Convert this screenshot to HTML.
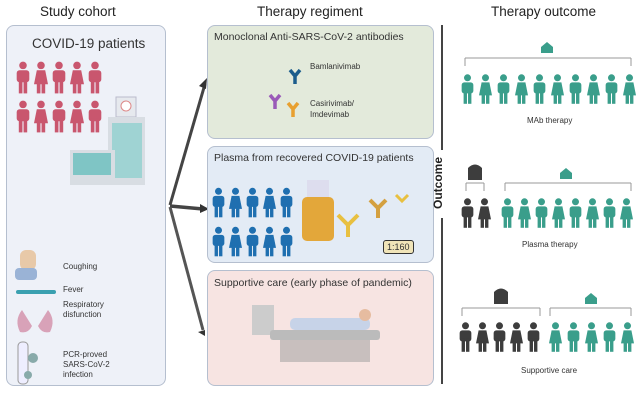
<!DOCTYPE html><html><head><style>
body{margin:0;width:641px;height:401px;background:#fff;font-family:"Liberation Sans",sans-serif;position:relative;overflow:hidden}
.t{position:absolute;font-size:13px;color:#222}
.s{position:absolute;font-size:8px;color:#333}
.box{position:absolute;border:1.5px solid #b5bfcf;border-radius:8px}
</style></head><body>
<svg width="0" height="0" style="position:absolute"><defs>
<symbol id="p" viewBox="0 0 10 24"><circle cx="5" cy="3" r="2.7"/><rect x="0.5" y="6.5" width="9" height="8.5" rx="2"/><rect x="2" y="13" width="2.6" height="10"/><rect x="5.4" y="13" width="2.6" height="10"/></symbol>
<symbol id="f" viewBox="0 0 10 24"><circle cx="5" cy="3" r="2.7"/><path d="M2 6.5h6l2 10H0z"/><rect x="2" y="15" width="2.6" height="8"/><rect x="5.4" y="15" width="2.6" height="8"/></symbol>
</defs></svg>
<div class="t" style="left:40px;top:4px;font-size:13.5px">Study cohort</div>
<div class="t" style="left:257px;top:4px;font-size:13.5px">Therapy regiment</div>
<div class="t" style="left:491px;top:4px;font-size:13.5px">Therapy outcome</div>
<div class="box" style="left:6px;top:25px;width:158px;height:359px;background:#eef1f8"></div>
<div class="t" style="left:32px;top:36px;font-size:13.5px;color:#333">COVID-19 patients</div>
<svg style="position:absolute;left:0;top:0" width="641" height="401">
<g fill="#c9566e">
<use href="#p" x="16" y="60" width="14" height="36"/><use href="#f" x="34" y="60" width="14" height="36"/><use href="#p" x="52" y="60" width="14" height="36"/><use href="#f" x="70" y="60" width="14" height="36"/><use href="#p" x="88" y="60" width="14" height="36"/>
<use href="#p" x="16" y="99" width="14" height="36"/><use href="#f" x="34" y="99" width="14" height="36"/><use href="#p" x="52" y="99" width="14" height="36"/><use href="#f" x="70" y="99" width="14" height="36"/><use href="#p" x="88" y="99" width="14" height="36"/>
</g>
<rect x="116" y="97" width="20" height="20" fill="#e6e9ee" stroke="#bbc"/><circle cx="126" cy="106" r="5" fill="#fff" stroke="#d88"/>
<rect x="108" y="117" width="37" height="68" fill="#d8dde3"/><rect x="112" y="123" width="30" height="55" fill="#9fd3d3"/>
<rect x="70" y="150" width="45" height="35" fill="#d8dde3"/><rect x="73" y="153" width="38" height="22" fill="#7fc5c5"/>
<rect x="20" y="250" width="16" height="20" rx="6" fill="#e8c9a8"/><rect x="15" y="268" width="22" height="12" rx="4" fill="#9ab3d6"/>
<rect x="16" y="290" width="40" height="4" rx="2" fill="#3aa0b0"/>
<path d="M22 310 q-8 10 -2 22 q8 2 12 -6z M48 310 q8 10 2 22 q-8 2 -12 -6z" fill="#d8a2b8"/>
<rect x="18" y="342" width="10" height="42" rx="4" fill="#eef" stroke="#999"/><circle cx="33" cy="358" r="5" fill="#8aa"/><circle cx="28" cy="375" r="4" fill="#8aa"/>
<line x1="170" y1="205" x2="205" y2="84" stroke="#444" stroke-width="3"/><path d="M207 78 l-1 11 -7 -3z" fill="#333"/>
<line x1="170" y1="206" x2="203" y2="209" stroke="#444" stroke-width="3.5"/><path d="M209 209 l-9 -5 0 9z" fill="#333"/>
<line x1="170" y1="207" x2="203" y2="330" stroke="#555" stroke-width="3"/><path d="M205 336 l-7 -4 7 -2z" fill="#333"/>
</svg>
<div class="s" style="left:63px;top:262px">Coughing</div>
<div class="s" style="left:63px;top:285px">Fever</div>
<div class="s" style="left:63px;top:300px;line-height:10px">Respiratory<br>disfunction</div>
<div class="s" style="left:63px;top:350px;line-height:10px">PCR-proved<br>SARS-CoV-2<br>infection</div>
<div class="box" style="left:207px;top:25px;width:225px;height:112px;background:#e3eadb"></div>
<div class="box" style="left:207px;top:146px;width:225px;height:115px;background:#e3ebf5"></div>
<div class="box" style="left:207px;top:270px;width:225px;height:114px;background:#f7e4e2"></div>
<div class="t" style="left:214px;top:31px;font-size:10.5px;color:#333">Monoclonal Anti-SARS-CoV-2 antibodies</div>
<div class="t" style="left:214px;top:152px;font-size:10.5px;color:#333">Plasma from recovered COVID-19 patients</div>
<div class="t" style="left:214px;top:277px;font-size:10.5px;color:#333">Supportive care (early phase of pandemic)</div>
<div class="s" style="left:310px;top:62px">Bamlanivimab</div>
<div class="s" style="left:310px;top:98px;line-height:11px">Casirivimab/<br>Imdevimab</div>
<div class="s" style="left:383px;top:240px;border:1px solid #333;border-radius:3px;padding:1px 3px;background:#f0e4b8;font-size:9px">1:160</div>
<div style="position:absolute;left:441px;top:25px;width:2px;height:125px;background:#444"></div>
<div style="position:absolute;left:441px;top:218px;width:2px;height:166px;background:#444"></div>
<div class="t" style="left:412px;top:176px;transform:rotate(-90deg);font-weight:bold;font-size:12px">Outcome</div>
<svg style="position:absolute;left:0;top:0" width="641" height="401">
<g fill="#1f6fb0">
<use href="#p" x="212" y="186" width="13" height="34"/><use href="#f" x="229" y="186" width="13" height="34"/><use href="#p" x="246" y="186" width="13" height="34"/><use href="#f" x="263" y="186" width="13" height="34"/><use href="#p" x="280" y="186" width="13" height="34"/>
<use href="#p" x="212" y="225" width="13" height="34"/><use href="#f" x="229" y="225" width="13" height="34"/><use href="#p" x="246" y="225" width="13" height="34"/><use href="#f" x="263" y="225" width="13" height="34"/><use href="#p" x="280" y="225" width="13" height="34"/>
</g>
<rect x="302" y="197" width="32" height="44" rx="5" fill="#e3a73a"/><rect x="307" y="180" width="22" height="17" fill="#dde"/>
<path d="M338 215 l10 10 10 -10 M348 225 v12" stroke="#e8c040" stroke-width="4" fill="none"/>
<path d="M370 200 l8 8 8 -8 M378 208 v10" stroke="#d4a040" stroke-width="4" fill="none"/>
<path d="M396 195 l6 6 6 -6" stroke="#e8c040" stroke-width="3" fill="none"/>
<path d="M290 70 l5 6 5 -6 M295 76 v8" stroke="#1c5d8c" stroke-width="3.5" fill="none"/>
<path d="M270 95 l5 6 5 -6 M275 101 v8" stroke="#9a5ab8" stroke-width="3.5" fill="none"/>
<path d="M288 103 l5 6 5 -6 M293 109 v8" stroke="#e8a030" stroke-width="3.5" fill="none"/>
<rect x="252" y="305" width="22" height="30" fill="#ccc"/><rect x="270" y="330" width="110" height="10" rx="3" fill="#bbb"/><rect x="290" y="318" width="80" height="12" rx="5" fill="#c7d3e8"/><circle cx="365" cy="315" r="6" fill="#e6bca0"/><rect x="280" y="340" width="90" height="22" fill="#999" opacity=".5"/>
<g fill="#3a9e8b">
<path d="M465 58 h166 M465 58 v8 M631 58 v8" stroke="#999" fill="none"/>
<path d="M541 47 l6 -5 6 5 v6 h-12z"/>
<use href="#p" x="461" y="72" width="13" height="35"/><use href="#f" x="479" y="72" width="13" height="35"/><use href="#p" x="497" y="72" width="13" height="35"/><use href="#f" x="515" y="72" width="13" height="35"/><use href="#p" x="533" y="72" width="13" height="35"/><use href="#f" x="551" y="72" width="13" height="35"/><use href="#p" x="569" y="72" width="13" height="35"/><use href="#f" x="587" y="72" width="13" height="35"/><use href="#p" x="605" y="72" width="13" height="35"/><use href="#f" x="623" y="72" width="13" height="35"/>
<path d="M505 183 h126 M505 183 v8 M631 183 v8" stroke="#999" fill="none"/><path d="M560 173 l6 -5 6 5 v6 h-12z"/>
<use href="#p" x="501" y="196" width="13" height="35"/><use href="#f" x="518" y="196" width="13" height="35"/><use href="#p" x="535" y="196" width="13" height="35"/><use href="#f" x="552" y="196" width="13" height="35"/><use href="#p" x="569" y="196" width="13" height="35"/><use href="#f" x="586" y="196" width="13" height="35"/><use href="#p" x="603" y="196" width="13" height="35"/><use href="#f" x="620" y="196" width="13" height="35"/>
<path d="M550 308 h81 M550 308 v8 M631 308 v8" stroke="#999" fill="none"/><path d="M585 298 l6 -5 6 5 v6 h-12z"/>
<use href="#f" x="549" y="320" width="13" height="35"/><use href="#p" x="567" y="320" width="13" height="35"/><use href="#f" x="585" y="320" width="13" height="35"/><use href="#p" x="603" y="320" width="13" height="35"/><use href="#f" x="621" y="320" width="13" height="35"/>
</g>
<g fill="#3d3d3d">
<path d="M466 183 h18 M466 183 v8 M484 183 v8 M462 308 h78 M462 308 v8 M540 308 v8" stroke="#999" fill="none"/>
<path d="M468 180 v-12 q7 -7 14 0 v12z"/><path d="M494 304 v-12 q7 -7 14 0 v12z"/>
<use href="#p" x="461" y="196" width="13" height="35"/><use href="#f" x="478" y="196" width="13" height="35"/>
<use href="#p" x="459" y="320" width="13" height="35"/><use href="#f" x="476" y="320" width="13" height="35"/><use href="#p" x="493" y="320" width="13" height="35"/><use href="#f" x="510" y="320" width="13" height="35"/><use href="#p" x="527" y="320" width="13" height="35"/>
</g>
</svg>
<div class="s" style="left:527px;top:116px">MAb therapy</div>
<div class="s" style="left:522px;top:240px">Plasma therapy</div>
<div class="s" style="left:521px;top:366px">Supportive care</div>
</body></html>
